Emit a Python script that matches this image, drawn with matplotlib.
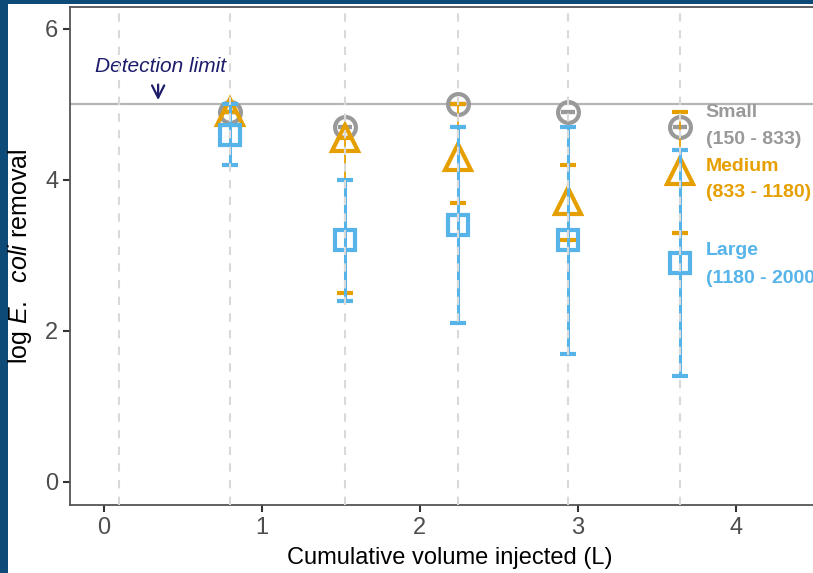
import matplotlib.pyplot as plt
from matplotlib.patches import Rectangle

plt.rcParams['font.family'] = ['Liberation Sans', 'DejaVu Sans']
plt.rcParams['mathtext.fontset'] = 'custom'
plt.rcParams['mathtext.it'] = 'Liberation Sans:italic'
plt.rcParams['mathtext.rm'] = 'Liberation Sans'

# sampling volumes (L)
sample_vol = [0.10, 0.80, 1.53, 2.24, 2.94, 3.65]
vol = [0.80, 1.53, 2.24, 2.94, 3.65]

small_mean = [4.9, 4.7, 5.0, 4.9, 4.7]
small_lo = [4.9, 4.7, 5.0, 4.9, 4.7]
small_hi = [4.9, 4.7, 5.0, 4.9, 4.7]

medium_mean = [4.9, 4.55, 4.3, 3.72, 4.12]
medium_lo = [4.9, 2.5, 3.7, 3.2, 3.3]
medium_hi = [4.9, 4.55, 5.0, 4.2, 4.9]

large_mean = [4.6, 3.2, 3.4, 3.2, 2.9]
large_lo = [4.2, 2.4, 2.1, 1.7, 1.4]
large_hi = [5.0, 4.0, 4.7, 4.7, 4.4]

detection_limit = 5.0

blue_bg = '#0e4a78'
c_small = '#999999'
c_medium = '#E69F00'
c_large = '#56B4E9'

fig = plt.figure(figsize=(8.13, 5.73), dpi=100, facecolor=blue_bg)
W, H = 813, 573
fig.patches.append(Rectangle((8 / W, 0), 1, (H - 4) / H, transform=fig.transFigure,
                             facecolor='white', edgecolor='none', zorder=-10))

x0, x1 = -0.2127, 4.6
y0, y1 = -0.305, 6.29
ax = fig.add_axes([70 / W, (H - 505) / H, (x1 - x0) * 158 / W, (505 - 7) / H])
ax.set_xlim(x0, x1)
ax.set_ylim(y0, y1)


def err(mean, lo, hi):
    return [[m - l for m, l in zip(mean, lo)], [h - m for m, h in zip(mean, hi)]]


ax.axhline(detection_limit, color='#b5b5b5', lw=1.6, zorder=1)

ax.errorbar(vol, small_mean, yerr=err(small_mean, small_lo, small_hi), fmt='o', ms=15,
            mfc='none', mec=c_small, mew=3, ecolor=c_small, elinewidth=1.5,
            capsize=5, capthick=1.8, zorder=3)
ax.errorbar(vol, medium_mean, yerr=err(medium_mean, medium_lo, medium_hi), fmt='^', ms=19,
            mfc='none', mec=c_medium, mew=3, ecolor=c_medium, elinewidth=1.3,
            capsize=5.5, capthick=2, zorder=4)
ax.errorbar(vol, large_mean, yerr=err(large_mean, large_lo, large_hi), fmt='s', ms=15,
            mfc='none', mec=c_large, mew=3, ecolor=c_large, elinewidth=2.2,
            capsize=5.5, capthick=2.2, zorder=5)

for v in sample_vol:
    ax.axvline(v, color='#d9d9d9', lw=1.5, ls=(0, (4, 4)), zorder=6)

ax.text(0.357, 5.5, 'Detection limit', color='#1c1c6b', fontsize=15, style='italic',
        ha='center', va='center')
ax.annotate('', xy=(0.345, 5.02), xytext=(0.345, 5.3),
            arrowprops=dict(arrowstyle='->', mutation_scale=22,
                            color='#1c1c6b', lw=1.6))

lab_x = 3.81
labels = [('Small', 4.89, c_small), ('(150 - 833)', 4.54, c_small),
          ('Medium', 4.18, c_medium), ('(833 - 1180)', 3.83, c_medium),
          ('Large', 3.07, c_large), ('(1180 - 2000)', 2.69, c_large)]
for txt, yy, col in labels:
    ax.text(lab_x, yy, txt, color=col, fontsize=14, fontweight='bold', va='center', ha='left')

ax.set_xticks([0, 1, 2, 3, 4])
ax.set_yticks([0, 2, 4, 6])
ax.tick_params(labelsize=17, labelcolor='#4d4d4d', color='#333333', length=5, width=1.5)
for s in ax.spines.values():
    s.set_color('#555555')
    s.set_linewidth(1.3)

ax.set_xlabel('Cumulative volume injected (L)', fontsize=17, labelpad=6)
ax.set_ylabel(r'log $\mathit{E.\ \ coli}$ removal', fontsize=18, labelpad=8)

fig.savefig('out.png', dpi=100, facecolor=blue_bg)
